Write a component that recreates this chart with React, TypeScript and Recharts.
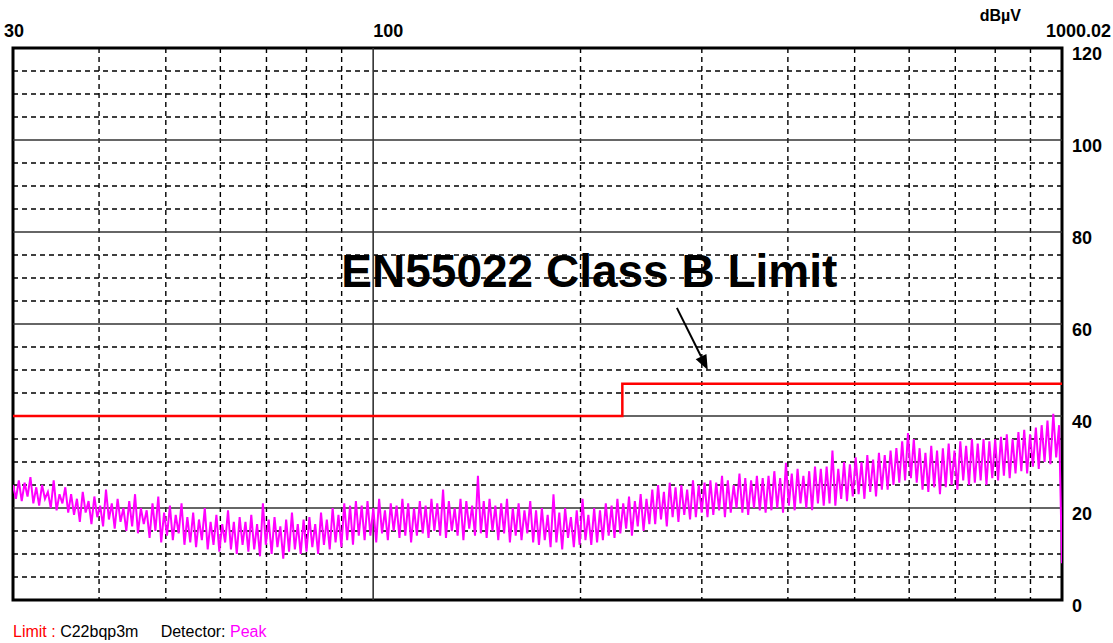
import React from 'react';
import { LineChart, Line, XAxis, YAxis, ReferenceLine, ReferenceArea, ReferenceDot } from 'recharts';

// sweep 30 MHz .. 1000.02 MHz, log-spaced points
const sweepStart = 30;
const sweepStop = 1000.02;

// peak detector trace, dBµV
const peakTrace = [
  25, 22, 26, 21.5, 25.5, 22.5, 26.7, 21, 24.5, 20.5, 25, 22, 23.5, 20, 26, 19.5, 23, 21, 24.5, 19,
  23, 18.5, 22, 17, 23.5, 19, 21.5, 16.5, 22.5, 18, 20.5, 16, 24, 17.5, 21, 15.5, 22, 17, 20, 15,
  21.5, 16, 23, 14.5, 20, 16.5, 19.5, 13.5, 21, 15, 22.5, 12.5, 19, 14, 20.5, 13, 18.5, 14.5, 21, 12,
  18, 12.5, 19, 11.5, 17.5, 13, 20, 11, 17, 12, 18.5, 10.5, 16.5, 12.5, 19.5, 11, 17, 10, 18, 12,
  17, 10.5, 18.5, 11, 16.5, 9.5, 21, 12, 17.5, 10, 18, 11.5, 16, 9, 17.5, 10.5, 19, 11, 16.5, 10,
  17.5, 10.5, 18, 11.5, 16.5, 10, 19, 12, 17.5, 11, 20, 12.5, 18.5, 11.5, 21, 13, 20.5, 12, 21.5, 14,
  20.5, 13, 21.5, 14, 20, 12.5, 22, 14.5, 19.5, 13, 21, 15, 20.5, 13.5, 22, 14, 21, 12.5, 20, 14,
  21.5, 14.5, 20.5, 13.5, 22, 15, 21, 14, 24, 13.5, 21.5, 15, 20, 14, 22, 13, 21.5, 15.5, 20.5, 14,
  27, 14.5, 21.5, 13.5, 22, 15, 20.5, 13, 21, 14.5, 22, 12.5, 20, 14, 21, 13, 19.5, 14.5, 21.5, 12.5,
  19.5, 12, 20, 13, 18.5, 11.5, 23, 12.5, 19, 11, 20, 13.5, 18, 11.5, 19.5, 12, 22, 13, 18.5, 12,
  20, 12.5, 19.5, 13, 21, 14, 20.5, 13.5, 22, 14.5, 21, 15.5, 22.5, 14, 21.5, 16, 23, 15, 22, 16.5,
  24, 16.5, 25, 17.5, 23.5, 16, 25.5, 18, 24.5, 17, 25, 18.5, 24, 17.5, 26, 18, 25, 19, 25.5, 18,
  26, 18.5, 25.5, 19.5, 27, 18, 26, 19, 25, 20, 27.5, 19, 26.5, 18.5, 26, 20, 27, 19.5, 26.5, 19,
  27, 19.5, 28, 20, 26.5, 19, 29.8, 20.5, 27.5, 19.5, 28.5, 21, 27, 20, 28, 19.5, 29, 21, 28.5, 20.5,
  29, 21, 32.5, 20.5, 28.5, 22, 30, 21.5, 29.5, 22.5, 31, 23, 30, 22, 31.5, 23.5, 30.5, 22.5, 32, 24,
  31.5, 24, 32.5, 25, 33, 25.5, 34.5, 26, 36.3, 26.5, 35, 25.5, 33, 24, 32, 23.5, 33.5, 24.5, 32.5, 23,
  33, 24.5, 34, 25, 32.5, 24, 34.5, 26, 33.5, 25, 35, 25.5, 34, 26, 35, 25, 34.5, 26.5, 35, 26,
  35.5, 27, 36, 26.5, 35, 27.5, 36.5, 28, 37, 27.5, 36, 29, 37.5, 28.5, 38, 30, 39, 29.5, 40.5, 31,
  38, 8,
];

// EN55022 class B limit (3 m)
const limitFreqs = [30, 230, 1000.02];
const limitLevels = [40, 47, 47];

const freqTicks = [30, 100, 1000.02];
const levelTicks = [0, 20, 40, 60, 80, 100, 120];
const minorFreqs = [40, 50, 60, 70, 80, 90, 200, 300, 400, 500, 600, 700, 800, 900];
const majorFreqs = [100];
const minorLevels = [5, 10, 15, 25, 30, 35, 45, 50, 55, 65, 70, 75, 85, 90, 95, 105, 110, 115];
const majorLevels = [20, 40, 60, 80, 100];

// annotation anchors (MHz, dBµV)
const titleAt = { freq: 206, level: 68 };
const arrowFrom = { freq: 276, level: 63.5 };
const arrowTo = { freq: 306, level: 50 };

const traceData = peakTrace.map((v, i) => ({
  freq: sweepStart * Math.pow(sweepStop / sweepStart, i / (peakTrace.length - 1)),
  level: v,
}));
const limitData = limitFreqs.map((f, i) => ({ freq: f, level: limitLevels[i] }));

const FONT = '"Liberation Sans", Arial, sans-serif';

const FreqTick = (props: any) => {
  const { x, y, index, payload } = props;
  const last = index === freqTicks.length - 1;
  let tx = x;
  if (index === 0) tx = x - 9;
  if (last) tx = x + 49;
  return (
    <text x={tx} y={y - 11} textAnchor={last ? 'end' : 'start'} fontFamily={FONT} fontWeight="bold" fontSize={18} fill="#000">
      {payload.value}
    </text>
  );
};

const LevelTick = (props: any) => {
  const { x, y, payload } = props;
  return (
    <text x={x + 10} y={y + 12} textAnchor="start" fontFamily={FONT} fontWeight="bold" fontSize={18} fill="#000">
      {payload.value}
    </text>
  );
};

const Arrow = (props: any) => {
  const { x1, y1, x2, y2 } = props;
  const a = Math.atan2(y2 - y1, x2 - x1);
  const len = 15;
  const w = 6;
  const bx = x2 - len * Math.cos(a);
  const by = y2 - len * Math.sin(a);
  const px = -Math.sin(a) * w;
  const py = Math.cos(a) * w;
  return (
    <g>
      <line x1={x1} y1={y1} x2={bx} y2={by} stroke="#000" strokeWidth={2} />
      <polygon points={`${x2},${y2} ${bx + px},${by + py} ${bx - px},${by - py}`} fill="#000" />
    </g>
  );
};

export default function App() {
  return (
    <div style={{ position: 'absolute', left: 0, top: 0, width: 1113, height: 643, background: '#fff' }}>
      <LineChart width={1113} height={643} margin={{ top: 0, right: 0, bottom: 43, left: 13 }}>
        <XAxis
          xAxisId="f"
          dataKey="freq"
          type="number"
          scale="log"
          domain={[sweepStart, sweepStop]}
          allowDataOverflow
          orientation="top"
          height={48}
          ticks={freqTicks}
          tick={<FreqTick />}
          tickLine={false}
          tickSize={0}
          tickMargin={0}
          axisLine={false}
          interval={0}
        />
        <YAxis
          yAxisId="l"
          type="number"
          domain={[0, 120]}
          orientation="right"
          width={51}
          ticks={levelTicks}
          tick={<LevelTick />}
          tickLine={false}
          tickSize={0}
          tickMargin={0}
          axisLine={false}
          interval={0}
          label={{
            content: (p: any) => (
              <text x={p.viewBox.x - 41} y={p.viewBox.y - 27} textAnchor="end" fontFamily={FONT} fontWeight="bold" fontSize={16} fill="#000">
                dBµV
              </text>
            ),
          }}
        />
        {minorLevels.map((v) => (
          <ReferenceLine key={'ml' + v} xAxisId="f" yAxisId="l" y={v} stroke="#000" strokeWidth={1.4} strokeDasharray="5 4" />
        ))}
        {minorFreqs.map((v) => (
          <ReferenceLine key={'mf' + v} xAxisId="f" yAxisId="l" x={v} stroke="#000" strokeWidth={1.4} strokeDasharray="5 4" />
        ))}
        {majorLevels.map((v) => (
          <ReferenceLine key={'Ml' + v} xAxisId="f" yAxisId="l" y={v} stroke="#333" strokeWidth={1.6} />
        ))}
        {majorFreqs.map((v) => (
          <ReferenceLine key={'Mf' + v} xAxisId="f" yAxisId="l" x={v} stroke="#333" strokeWidth={1.6} />
        ))}
        <ReferenceArea
          xAxisId="f"
          yAxisId="l"
          x1={sweepStart}
          x2={sweepStop}
          y1={0}
          y2={120}
          fill="none"
          fillOpacity={0}
          stroke="#000"
          strokeWidth={3}
        />
        <Line
          xAxisId="f"
          yAxisId="l"
          data={limitData}
          dataKey="level"
          type="stepAfter"
          stroke="#ff0000"
          strokeWidth={2.5}
          dot={false}
          isAnimationActive={false}
        />
        <Line
          xAxisId="f"
          yAxisId="l"
          data={traceData}
          dataKey="level"
          type="linear"
          stroke="#ff00ff"
          strokeWidth={2}
          dot={false}
          isAnimationActive={false}
        />
        <ReferenceLine
          xAxisId="f"
          yAxisId="l"
          segment={[
            { x: arrowFrom.freq, y: arrowFrom.level },
            { x: arrowTo.freq, y: arrowTo.level },
          ]}
          shape={<Arrow />}
        />
        <ReferenceDot
          xAxisId="f"
          yAxisId="l"
          x={titleAt.freq}
          y={titleAt.level}
          r={0}
          shape={(p: any) => (
            <text x={p.cx} y={p.cy} textAnchor="middle" fontFamily={FONT} fontWeight="bold" fontSize={46} fill="#000">
              EN55022 Class B Limit
            </text>
          )}
        />
      </LineChart>
      <div style={{ position: 'absolute', left: 13, top: 623, fontFamily: FONT, fontSize: 16, whiteSpace: 'pre', color: '#000' }}>
        <span style={{ color: '#ff0000' }}>Limit : </span>
        <span>C22bqp3m</span>
        <span>{'     Detector: '}</span>
        <span style={{ color: '#ff00ff' }}>Peak</span>
      </div>
    </div>
  );
}
